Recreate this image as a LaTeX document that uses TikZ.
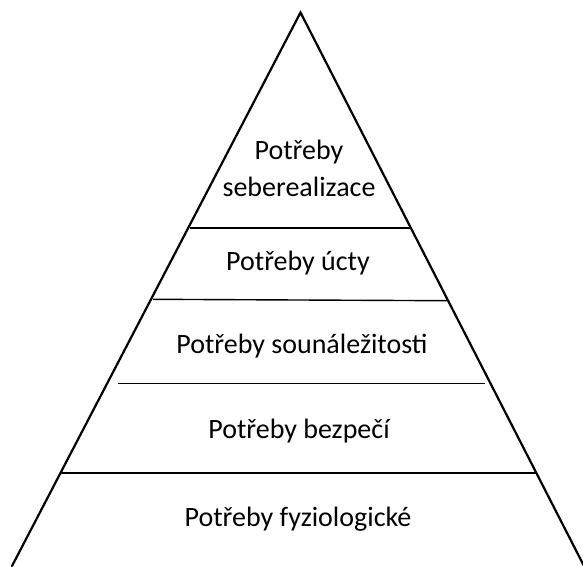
\documentclass[tikz,border=0pt]{standalone}
\usepackage{fontspec}
\setmainfont{Carlito}
\begin{document}
\begin{tikzpicture}[x=1pt,y=-1pt,
  edge/.style={line width=2.2pt,line cap=round},
  divider/.style={line width=1.4pt},
  label/.style={font=\fontsize{28}{37.4}\selectfont,inner sep=0pt,align=center,anchor=base}]
\useasboundingbox (0,0) rectangle (583,566);
\coordinate (apex) at (300.5,12.5);
\coordinate (bl) at (12,566);
\coordinate (br) at (584,566);
\begin{scope}
\clip (0,0) rectangle (583,566);
\draw[edge] (bl) -- (apex) -- (br);
\end{scope}
\coordinate (d1l) at (190,228);
\coordinate (d1r) at (411,228);
\coordinate (d2l) at (153,299.3);
\coordinate (d2r) at (448,300.7);
\coordinate (d3l) at (118,383.3);
\coordinate (d3r) at (485,383.3);
\coordinate (d4l) at (61,472.5);
\coordinate (d4r) at (537,472.5);
\draw[divider] (d1l) -- (d1r);
\draw[divider] (d2l) -- (d2r);
\draw[divider] (d3l) -- (d3r);
\draw[divider,line width=2pt] (d4l) -- (d4r);
\node[label] (self) at (299,196.7) {Potřeby\\seberealizace};
\node[label] (esteem) at (298,270) {Potřeby úcty};
\node[label] (belong) at (302,353.3) {Potřeby sounáležitosti};
\node[label] (safety) at (299,438.3) {Potřeby bezpečí};
\node[label] (phys) at (298,526.8) {Potřeby fyziologické};
\end{tikzpicture}
\end{document}
